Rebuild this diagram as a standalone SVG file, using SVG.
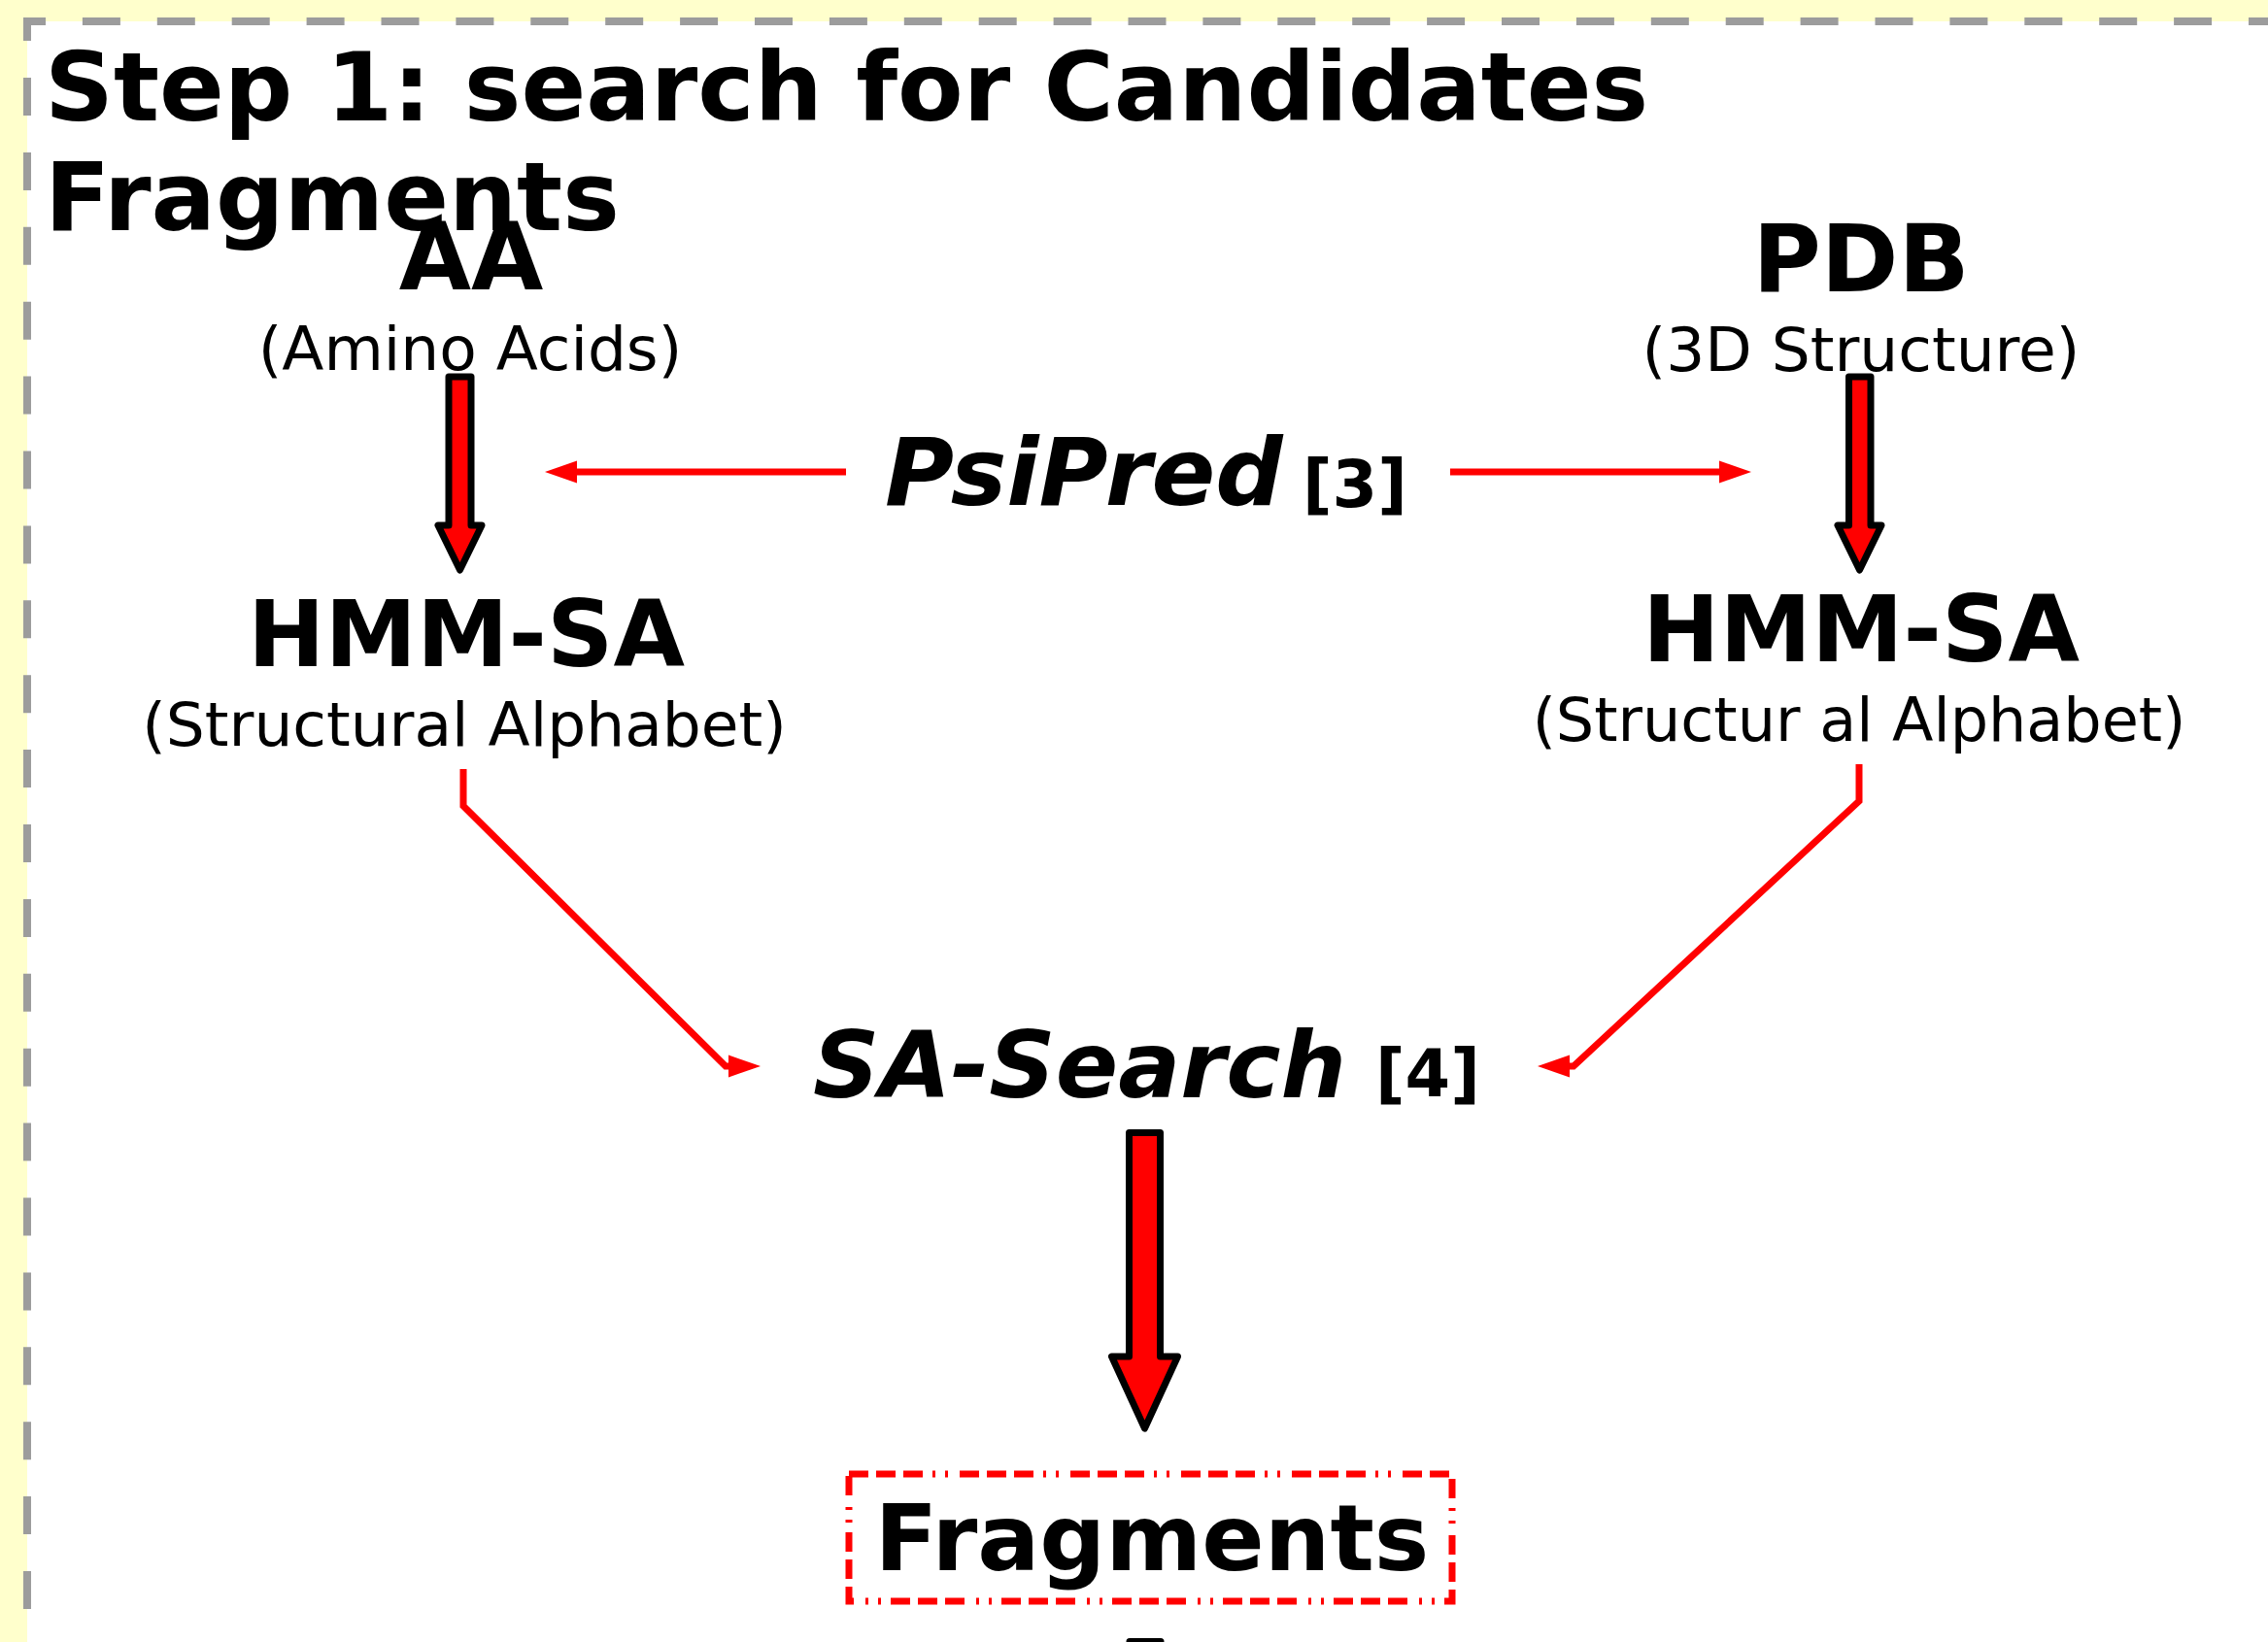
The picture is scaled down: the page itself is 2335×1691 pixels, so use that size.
<svg xmlns="http://www.w3.org/2000/svg" width="2335" height="1691" viewBox="0 0 2335 1691">
  <style>
    text { font-family: "DejaVu Sans", "Noto Sans", sans-serif; fill: #000; }
    .b { font-weight: bold; }
    .bi { font-weight: bold; font-style: italic; }
    .mid { text-anchor: middle; }
    .thin { fill: none; stroke: #ff0000; stroke-width: 7; }
    .fat { fill: #ff0000; stroke: #000; stroke-width: 7; stroke-linejoin: round; }
    .border { fill: none; stroke: #9c9c9c; stroke-width: 8; stroke-dasharray: 39 37.9; }
  </style>
  <defs>
    <marker id="ah" markerUnits="userSpaceOnUse" markerWidth="34" markerHeight="24" viewBox="0 0 34 24" refX="0" refY="12" orient="auto">
      <path d="M0,0.5 L33,12 L0,23.5 z" fill="#ff0000"/>
    </marker>
  </defs>

  <rect x="0" y="0" width="2335" height="1691" fill="#ffffcc"/>
  <rect x="28" y="22" width="2320" height="1680" fill="#ffffff"/>
  <path class="border" d="M28,42 L28,22 L2340,22"/>
  <path class="border" d="M28,80 L28,1700"/>

  <g id="title">
    <text class="b" x="46" y="124" font-size="98.5">Step 1: search for Candidates</text>
    <text class="b" x="46" y="237" font-size="98.5">Fragments</text>
  </g>

  <g id="aa">
    <text class="b mid" x="485" y="298" font-size="96">AA</text>
    <text class="mid" x="484" y="381" font-size="63">(Amino Acids)</text>
  </g>

  <g id="pdb">
    <text class="b mid" x="1916" y="300" font-size="96">PDB</text>
    <text class="mid" x="1916" y="382" font-size="63">(3D Structure)</text>
  </g>

  <g id="psipred">
    <text class="bi" x="911" y="520" font-size="97">PsiPred</text>
    <text class="b" x="1341" y="522" font-size="67">[3]</text>
  </g>

  <g id="hmmsa-left">
    <text class="b mid" x="480" y="686" font-size="95">HMM-SA</text>
    <text class="mid" x="478" y="768" font-size="63">(Structural Alphabet)</text>
  </g>

  <g id="hmmsa-right">
    <text class="b mid" x="1916" y="681" font-size="95">HMM-SA</text>
    <text class="mid" x="1914" y="763" font-size="62">(Structur al Alphabet)</text>
  </g>

  <g id="sa-search">
    <text class="bi" x="837" y="1130" font-size="95">SA-Search</text>
    <text class="b" x="1416" y="1129" font-size="67">[4]</text>
  </g>

  <g id="fragments">
    <rect x="874" y="1518" width="621" height="131" fill="none" stroke="#ff0000" stroke-width="7" stroke-dasharray="20 8 20 8 20 10 3 10 3 12"/>
    <text class="b mid" x="1186" y="1617" font-size="95">Fragments</text>
  </g>

  <g id="connectors">
    <polygon class="fat" points="462,388 485,388 485,541 496,541 473.5,587 451,541 462,541"/>
    <polygon class="fat" points="1903.5,388 1926,388 1926,541 1937,541 1914.5,587 1892,541 1903.5,541"/>
    <polygon class="fat" points="1162.5,1166.5 1194.5,1166.5 1194.5,1397 1212.5,1397 1178.5,1471 1144.5,1397 1162.5,1397"/>
    <polygon class="fat" points="1163,1690.5 1195,1690.5 1195,1800 1163,1800"/>
    <path class="thin" d="M871,486 H594" marker-end="url(#ah)"/>
    <path class="thin" d="M1493,486 H1770" marker-end="url(#ah)"/>
    <path class="thin" d="M477,792 V830 L747,1098 H750" marker-end="url(#ah)"/>
    <path class="thin" d="M1914,787 V825 L1620,1098 H1616" marker-end="url(#ah)"/>
  </g>
</svg>
